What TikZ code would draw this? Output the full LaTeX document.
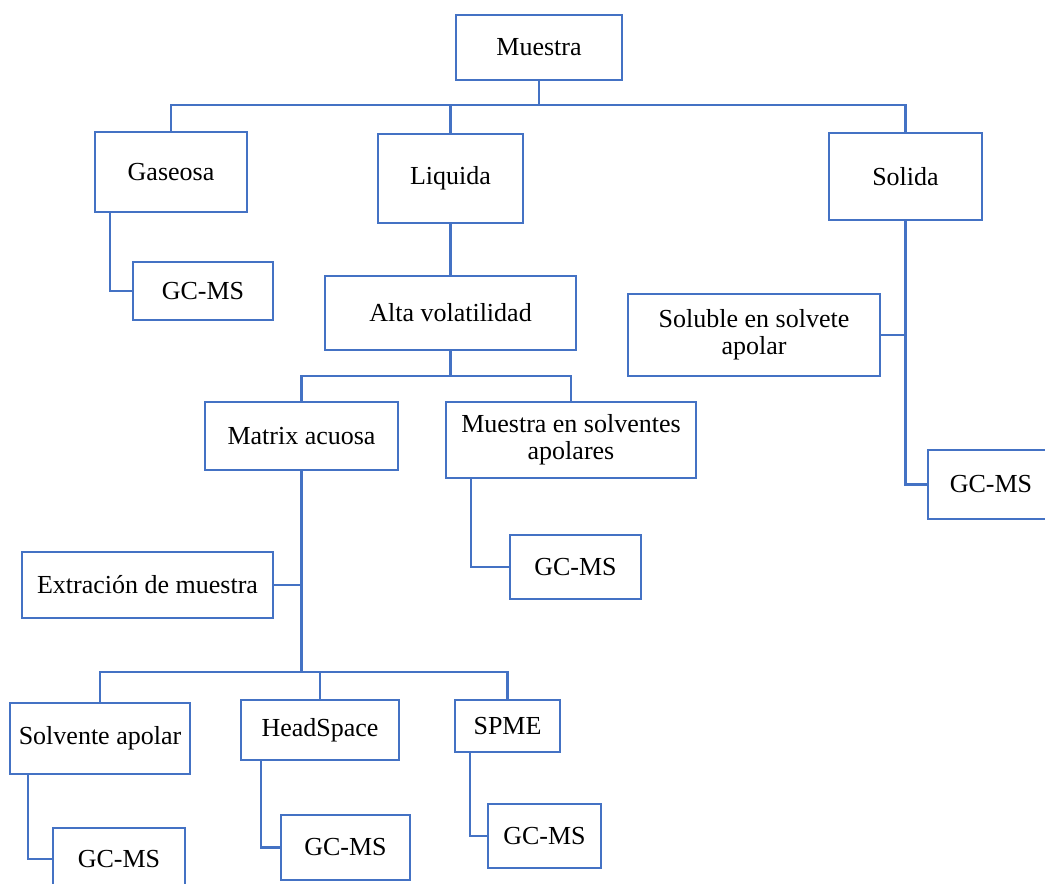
\documentclass[tikz,border=0pt]{standalone}
\usepackage{fontspec}
\setmainfont{Liberation Serif}
\usepackage{xcolor}
\usetikzlibrary{positioning, backgrounds}
\definecolor{boxblue}{HTML}{4472C4}

\begin{document}
\begin{tikzpicture}[
        x=1pt, y=-1pt,
        box/.style={rectangle, draw=boxblue, line width=2.6pt, fill=white, align=center,
            inner sep=0pt, outer sep=0pt, font=\fontsize{26}{27}\selectfont},
        link/.style={draw=boxblue, line width=2.6pt}
    ]
    \useasboundingbox (0,0) rectangle (1045,884);

    % first level
    \node[box, minimum width=166pt, minimum height=65pt] (muestra) at (539,47.5) {Muestra};
    \node[box, minimum width=152pt, minimum height=80pt] (gaseosa) at (171,172) {Gaseosa};
    \node[box, minimum width=145pt, minimum height=89pt] (liquida) at (450.5,178.5) {Liquida};
    \node[box, minimum width=153pt, minimum height=87pt] (solida) at (905.5,176.5) {Solida};

    % gaseosa / solida branches
    \node[box, minimum width=140pt, minimum height=58pt] (gc_gas) at (203,291) {GC-MS};
    \node[box, minimum width=252pt, minimum height=82pt] (soluble) at (754,335) {Soluble en solvete\\apolar};
    \node[box, minimum width=126pt, minimum height=69pt] (gc_sol) at (991,484.5) {GC-MS};

    % liquida branch
    \node[box, minimum width=251pt, minimum height=74pt] (alta) at (450.5,313) {Alta volatilidad};
    \node[box, minimum width=193pt, minimum height=68pt] (matrix) at (301.5,436) {Matrix acuosa};
    \node[box, minimum width=250pt, minimum height=76pt] (solventes) at (571,440) {Muestra en solventes\\apolares};
    \node[box, minimum width=131pt, minimum height=64pt] (gc_liq) at (575.5,567) {GC-MS};
    \node[box, minimum width=251pt, minimum height=66pt] (extr) at (147.5,585) {Extración de muestra};

    % extraction methods
    \node[box, minimum width=180pt, minimum height=71pt] (solvente) at (100,738.5) {Solvente apolar};
    \node[box, minimum width=158pt, minimum height=60pt] (head) at (320,730) {HeadSpace};
    \node[box, minimum width=105pt, minimum height=52pt] (spme) at (507.5,726) {SPME};
    \node[box, minimum width=132pt, minimum height=62pt] (gc_a) at (119,859) {GC-MS};
    \node[box, minimum width=129pt, minimum height=65pt] (gc_b) at (345.5,847.5) {GC-MS};
    \node[box, minimum width=113pt, minimum height=64pt] (gc_c) at (544.5,836) {GC-MS};

    % bus points
    \coordinate (topbus) at (539,105);
    \coordinate (midbus) at (450.5,376);
    \coordinate (lowbus) at (301.5,672);

    % connectors, behind the boxes
    \begin{scope}[on background layer]
        \draw[link] (muestra.south) -- (topbus);
        \draw[link] (gaseosa.north) |- (topbus) -| (solida.north);
        \draw[link] (liquida.north) -- (liquida.north |- topbus);
        \draw[link] ([xshift=15pt]gaseosa.south west) |- (gc_gas.west);
        \draw[link] (liquida.south) -- (alta.north);
        \draw[link] (solida.south) |- (gc_sol.west);
        \draw[link] (soluble.east) -- (soluble.east -| solida.south);
        \draw[link] (alta.south) -- (midbus);
        \draw[link] (matrix.north) |- (midbus) -| (solventes.north);
        \draw[link] ([xshift=25pt]solventes.south west) |- (gc_liq.west);
        \draw[link] (matrix.south) -- (lowbus);
        \draw[link] (extr.east) -- (extr.east -| matrix.south);
        \draw[link] (solvente.north) |- (lowbus) -| (spme.north);
        \draw[link] (head.north) -- (head.north |- lowbus);
        \draw[link] ([xshift=18pt]solvente.south west) |- (gc_a.west);
        \draw[link] ([xshift=20pt]head.south west) |- (gc_b.west);
        \draw[link] ([xshift=15pt]spme.south west) |- (gc_c.west);
    \end{scope}
\end{tikzpicture}
\end{document}
